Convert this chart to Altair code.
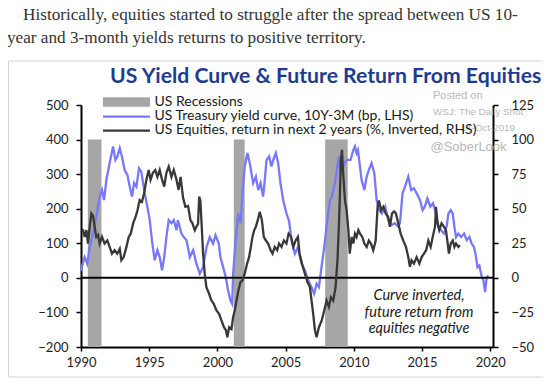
import altair as alt
import pandas as pd

# ---------------- data ----------------
rec_start = [1990.5, 2001.2, 2007.9]
rec_end = [1991.5, 2002.0, 2009.55]

curve_years = [1990.00, 1990.15, 1990.27, 1990.46, 1990.64, 1990.88, 1991.12, 1991.37, 1991.54, 1991.69,
               1991.86, 1992.10, 1992.35, 1992.52, 1992.66, 1992.84, 1993.00, 1993.20, 1993.40, 1993.57,
               1993.74, 1993.89, 1994.06, 1994.25, 1994.42, 1994.55, 1994.67, 1994.86, 1995.04, 1995.20,
               1995.40, 1995.60, 1995.77, 1995.94, 1996.10, 1996.26, 1996.43, 1996.63, 1996.80, 1997.00,
               1997.10, 1997.36, 1997.50, 1997.73, 1997.98, 1998.22, 1998.46, 1998.71, 1998.95, 1999.20,
               1999.44, 1999.68, 1999.86, 2000.10, 2000.22, 2000.42, 2000.61, 2000.78, 2000.95, 2001.08,
               2001.15, 2001.32, 2001.52, 2001.70, 2001.83, 2002.00, 2002.20, 2002.37, 2002.62, 2002.82,
               2002.99, 2003.16, 2003.35, 2003.47, 2003.60, 2003.79, 2003.96, 2004.09, 2004.28, 2004.45,
               2004.62, 2004.82, 2005.06, 2005.25, 2005.43, 2005.68, 2005.90, 2006.16, 2006.41, 2006.65,
               2006.90, 2007.09, 2007.27, 2007.44, 2007.63, 2007.83, 2008.00, 2008.25, 2008.40, 2008.61,
               2008.80, 2008.90, 2009.06, 2009.30, 2009.50, 2009.76, 2009.96, 2010.08, 2010.20, 2010.30,
               2010.45, 2010.57, 2010.77, 2010.94, 2011.10, 2011.30, 2011.50, 2011.67, 2011.85, 2012.05,
               2012.30, 2012.52, 2012.77, 2013.00, 2013.20, 2013.38, 2013.57, 2013.75, 2013.99, 2014.20,
               2014.40, 2014.60, 2014.85, 2015.04, 2015.20, 2015.39, 2015.60, 2015.80, 2015.95, 2016.10,
               2016.20, 2016.38, 2016.60, 2016.80, 2016.93, 2017.10, 2017.25, 2017.37, 2017.49, 2017.66,
               2017.86, 2018.08, 2018.27, 2018.47, 2018.64, 2018.81, 2018.96, 2019.06, 2019.20, 2019.38,
               2019.50, 2019.62, 2019.74, 2019.86]
curve_bp = [20, 45, 60, 41, 90, 128, 177, 235, 254, 225,
            283, 332, 380, 341, 350, 375, 351, 312, 298, 264,
            235, 274, 264, 317, 307, 274, 245, 206, 167, 109,
            51, 80, 60, 22, 60, 118, 167, 158, 167, 138,
            167, 128, 120, 109, 60, 80, 41, 12, 31, 89,
            118, 99, 123, 99, 60, 31, 2, -36, -65, -75,
            12, 99, 186, 158, 245, 322, 361, 332, 274, 293,
            254, 274, 235, 283, 341, 351, 322, 341, 361, 332,
            274, 225, 186, 165, 109, 70, 89, 41, 22, -7,
            -27, -46, -17, -27, 31, 89, 148, 225, 235, 274,
            322, 351, 300, 332, 341, 341, 370, 380, 361, 370,
            322, 283, 254, 293, 312, 332, 303, 225, 196, 186,
            206, 167, 153, 158, 150, 157, 245, 264, 293, 254,
            259, 245, 225, 196, 206, 230, 206, 216, 196, 167,
            148, 138, 128, 148, 186, 196, 186, 148, 118, 128,
            118, 128, 109, 118, 99, 89, 60, 31, 36, 2,
            -7, -41, 2, 7]

eq_years = [1990.05, 1990.15, 1990.27, 1990.40, 1990.51, 1990.64, 1990.76, 1990.88, 1991.00, 1991.12,
            1991.25, 1991.37, 1991.54, 1991.73, 1991.93, 1992.10, 1992.27, 1992.46, 1992.66, 1992.84,
            1992.96, 1993.13, 1993.33, 1993.50, 1993.65, 1993.82, 1994.00, 1994.14, 1994.30, 1994.47,
            1994.62, 1994.79, 1994.96, 1995.10, 1995.27, 1995.44, 1995.60, 1995.77, 1995.94, 1996.10,
            1996.26, 1996.43, 1996.63, 1996.80, 1997.00, 1997.15, 1997.30, 1997.48, 1997.65, 1997.85,
            1998.02, 1998.17, 1998.34, 1998.46, 1998.58, 1998.66, 1998.75, 1998.85, 1998.95, 1999.07,
            1999.19, 1999.39, 1999.56, 1999.73, 1999.93, 2000.12, 2000.30, 2000.48, 2000.63, 2000.73,
            2000.86, 2001.03, 2001.15, 2001.27, 2001.40, 2001.54, 2001.69, 2001.83, 2002.00, 2002.17,
            2002.32, 2002.45, 2002.57, 2002.70, 2002.82, 2002.96, 2003.10, 2003.26, 2003.40, 2003.55,
            2003.72, 2003.90, 2004.04, 2004.20, 2004.38, 2004.52, 2004.70, 2004.87, 2005.06, 2005.22,
            2005.40, 2005.56, 2005.73, 2005.90, 2006.02, 2006.20, 2006.41, 2006.60, 2006.78, 2006.90,
            2007.02, 2007.15, 2007.27, 2007.44, 2007.64, 2007.83, 2008.00, 2008.17, 2008.32, 2008.49,
            2008.66, 2008.80, 2008.90, 2008.98, 2009.05, 2009.13, 2009.20, 2009.35, 2009.47, 2009.60,
            2009.70, 2009.84, 2009.96, 2010.08, 2010.20, 2010.33, 2010.45, 2010.62, 2010.77, 2010.94,
            2011.10, 2011.25, 2011.42, 2011.60, 2011.74, 2011.84, 2012.00, 2012.16, 2012.33, 2012.52,
            2012.64, 2012.80, 2012.95, 2013.08, 2013.26, 2013.43, 2013.62, 2013.82, 2013.99, 2014.11,
            2014.23, 2014.40, 2014.60, 2014.80, 2014.97, 2015.14, 2015.30, 2015.46, 2015.63, 2015.78,
            2015.95, 2016.02, 2016.14, 2016.26, 2016.43, 2016.60, 2016.75, 2016.85, 2016.97, 2017.10,
            2017.25, 2017.37, 2017.49, 2017.66, 2017.78]
eq_ret_inv = [35, 34.5, 29.6, 34.5, 24.8, 36.9, 46.6, 45, 37, 29.6,
              31, 24.8, 29.6, 24.8, 27, 22.4, 17.5, 20, 17.5, 21,
              12.7, 15, 22.4, 29.6, 32, 39.4, 44, 48.9, 56.3, 55,
              61, 70.8, 78, 71, 76, 78, 73, 78, 71, 66,
              76, 80.5, 73, 78, 71, 63.6, 73, 58, 51.4, 52,
              41.7, 39.4, 34.5, 37, 39, 58.7, 56, 37, 17.6, 3,
              -6.7, -11.5, -16.4, -18.8, -23.6, -26, -30.9, -35.7, -38, -43,
              -35.7, -37, -28.5, -23.6, -16.4, -9, -3, -2, 3, 10,
              15, 22.4, 29.6, 34.5, 37, 41.7, 47.8, 41.7, 29.6, 27,
              24.8, 20, 17.5, 22.4, 20, 24.8, 22.4, 27, 24.8, 32,
              29.6, 22.4, 27, 29.6, 17.5, 10.3, 3, -3, -6.7, -16.4,
              -26, -38, -43, -35.7, -31, -23.6, -16.4, -21, -14, -16.4,
              -6.7, 12.7, 36.9, 61, 85, 92.6, 78, 56, 49, 34.5,
              17.5, 29.6, 24.8, 32, 29.6, 34.5, 32, 29.6, 24.8, 22.4,
              27, 24.8, 20, 27, 51.4, 56, 49, 51.4, 46.6, 44,
              37, 46.6, 48, 46.6, 39.4, 32, 27, 22.4, 15, 8,
              12.7, 10.3, 15, 10.3, 15, 17.5, 20, 27, 22.4, 29.6,
              37, 51.4, 39.4, 34.5, 39.4, 37, 34.5, 27, 17.5, 24.8,
              27, 22.4, 24.8, 22.4, 23.6]

x_ticks = [1990, 1995, 2000, 2005, 2010, 2015, 2020]
left_ticks = [-200, -100, 0, 100, 200, 300, 400, 500]
right_ticks = [-50, -25, 0, 25, 50, 75, 100, 125]

legend_labels = ["US Recessions",
                 "US Treasury yield curve, 10Y-3M (bp, LHS)",
                 "US Equities, return in next 2 years (%, Inverted, RHS)"]
title_text = "US Yield Curve & Future Return From Equities"
caption_lines = ["Historically, equities started to struggle after the spread between US 10-",
                 "year and 3-month yields returns to positive territory."]
note_lines = ["Curve inverted,", "future return from", "equities negative"]
watermark = ["Posted on", "WSJ: The Daily Shot", "14-Oct-2019", "@SoberLook"]

# ---------------- styling ----------------
BLUE = "#7878fa"
DARK = "#383838"
GREY = "#a6a6a6"
FONT = "Lato"

rec_df = pd.DataFrame({"start": rec_start, "end": rec_end, "top": [400] * 3, "bottom": [-200] * 3})
curve_df = pd.DataFrame({"year": curve_years, "bp": curve_bp})
eq_df = pd.DataFrame({"year": eq_years, "ret": eq_ret_inv})
zero_df = pd.DataFrame({"y": [0]})

x_scale = alt.Scale(domain=[1990, 2020.2], nice=False, zero=False)
left_scale = alt.Scale(domain=[-200, 500], nice=False, zero=False)
right_scale = alt.Scale(domain=[-50, 125], nice=False, zero=False)

x_axis = alt.Axis(values=x_ticks, format="d", title=None, grid=False, labelFlush=False,
                  labelOverlap=False, domainColor="black", domainWidth=2, tickColor="black",
                  tickWidth=1.5, tickSize=4, labelFont=FONT, labelFontSize=13, labelColor="#222",
                  labelPadding=5)
left_axis = alt.Axis(values=left_ticks, title=None, grid=False, domainColor="black", domainWidth=2,
                     tickColor="black", tickWidth=1.5, tickSize=5, labelFont=FONT, labelFontSize=13,
                     labelColor="#222", labelPadding=8, labelOverlap=False)
right_axis = alt.Axis(values=right_ticks, title=None, grid=False, orient="right", domainColor="black",
                      domainWidth=2, tickColor="black", tickWidth=1.5, tickSize=5, labelFont=FONT,
                      labelFontSize=13, labelColor="#222", labelPadding=13, labelOverlap=False)

X = alt.X("year:Q", scale=x_scale, axis=x_axis)

recessions = alt.Chart(rec_df).mark_rect(color=GREY, opacity=1).encode(
    x=alt.X("start:Q", scale=x_scale, axis=x_axis),
    x2="end:Q",
    y=alt.Y("top:Q", scale=left_scale, axis=left_axis),
    y2="bottom:Q",
)
curve = alt.Chart(curve_df).mark_line(color=BLUE, strokeWidth=2.3).encode(
    x=X, y=alt.Y("bp:Q", scale=left_scale, axis=left_axis)
)
zero = alt.Chart(zero_df).mark_rule(color="black", strokeWidth=2).encode(
    y=alt.Y("y:Q", scale=left_scale, axis=left_axis)
)
left_layer = alt.layer(recessions, curve, zero)

equities = alt.Chart(eq_df).mark_line(color=DARK, strokeWidth=2.3).encode(
    x=X, y=alt.Y("ret:Q", scale=right_scale, axis=right_axis)
)

one = pd.DataFrame({"a": [0]})


def txt(text, x, y, size, color="#222", font=FONT, weight="normal", style="normal", align="left"):
    return alt.Chart(one).mark_text(text=text, font=font, fontSize=size, color=color, fontWeight=weight,
                                    fontStyle=style, align=align, baseline="alphabetic").encode(
        x=alt.value(x), y=alt.value(y))


deco = []
# outer frame
deco.append(alt.Chart(one).mark_rect(fill=None, stroke="#d4d4d4", strokeWidth=1).encode(
    x=alt.value(-72.5), x2=alt.value(466), y=alt.value(-44), y2=alt.value(272)))
# caption
deco.append(txt(caption_lines[0], -58, -85, 17.2, color="#333", font="Liberation Serif"))
deco.append(txt(caption_lines[1], -74, -62, 17.2, color="#333", font="Liberation Serif"))
# title
deco.append(txt(title_text, 29, -22.5, 21.2, color="#1e3c8e", weight="bold"))
# watermark
deco.append(txt(watermark[0], 352, -6, 11, color="#b8b8b8", font="Liberation Sans"))
deco.append(txt(watermark[1], 352, 10, 9.8, color="#b8b8b8", font="Liberation Sans"))
deco.append(txt(watermark[2], 434, 25.5, 9.8, color="#b8b8b8", font="Liberation Sans", align="right"))
deco.append(txt(watermark[3], 349.5, 45.5, 13, color="#b8b8b8", font="Liberation Sans"))
# legend
deco.append(alt.Chart(one).mark_rect(color=GREY).encode(
    x=alt.value(22), x2=alt.value(69), y=alt.value(-7.7), y2=alt.value(1.7)))
deco.append(alt.Chart(one).mark_rule(color=BLUE, strokeWidth=2.2).encode(
    x=alt.value(22), x2=alt.value(69), y=alt.value(11.7)))
deco.append(alt.Chart(one).mark_rule(color=DARK, strokeWidth=2.2).encode(
    x=alt.value(22), x2=alt.value(69), y=alt.value(25.7)))
deco.append(txt(legend_labels[0], 73.5, 0.8, 14, color="#1a1a1a"))
deco.append(txt(legend_labels[1], 73.5, 15, 14, color="#1a1a1a"))
deco.append(txt(legend_labels[2], 73.5, 29.2, 14, color="#1a1a1a"))
# annotation
deco.append(txt(note_lines[0], 338, 195, 14.5, color="#1a1a1a", style="italic", align="center"))
deco.append(txt(note_lines[1], 338, 211.7, 14.5, color="#1a1a1a", style="italic", align="center"))
deco.append(txt(note_lines[2], 338, 228.2, 14.5, color="#1a1a1a", style="italic", align="center"))

chart = alt.layer(left_layer, equities, *deco).resolve_scale(y="independent").properties(
    width=412, height=242,
    padding={"left": 73, "top": 97, "right": 50, "bottom": 32},
    autosize=alt.AutoSizeParams(type="none"),
    background="white",
).configure_view(stroke=None)

chart.save("out.html", embed_options={"renderer": "svg", "actions": False})
